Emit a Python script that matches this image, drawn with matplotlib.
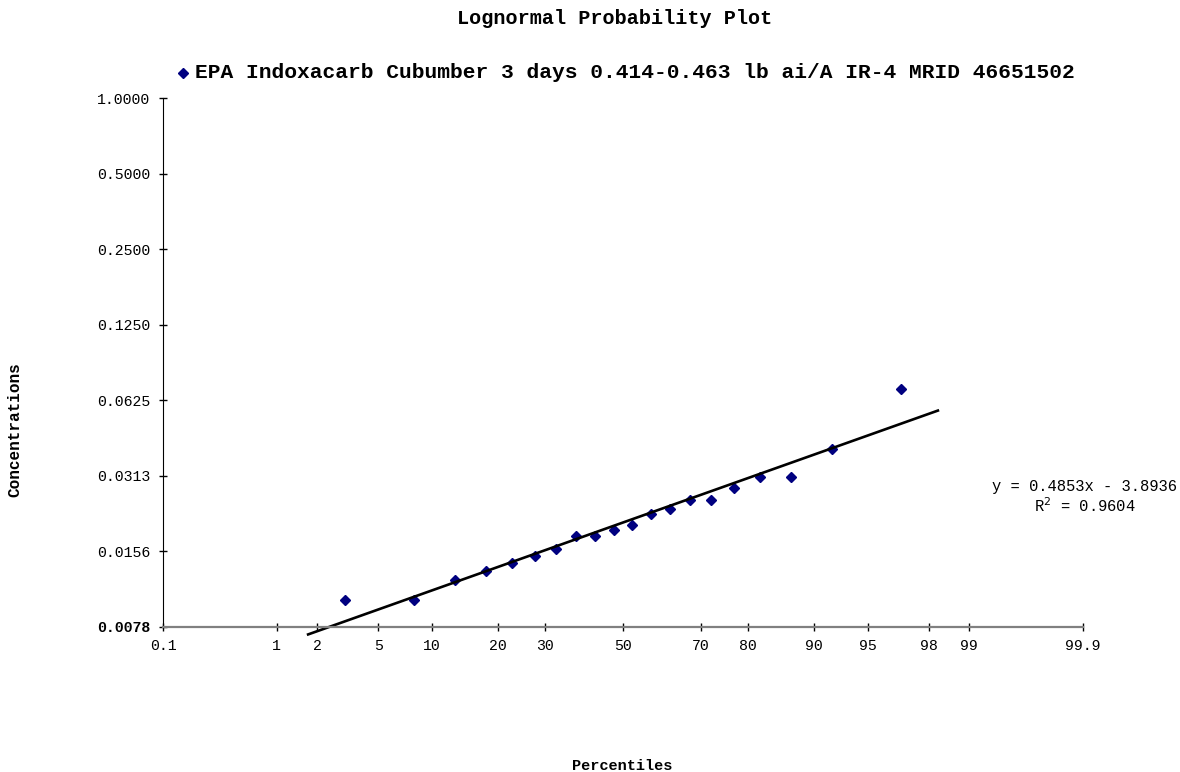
#!/usr/bin/env python3
'''
Lognormal probability plot of residue concentrations
'''
from statistics import NormalDist
import numpy as np
import matplotlib
matplotlib.use('Agg')
import matplotlib.pyplot as plt

plt.rcParams['font.family'] = ['Liberation Mono', 'DejaVu Sans Mono']

# plotting positions (percentiles) and residues (ppm)
percentiles = [3.09, 8.02, 12.96, 17.90, 22.84, 27.78, 32.72, 37.65, 42.59, 47.53,
               52.47, 57.41, 62.35, 67.28, 72.22, 77.16, 82.10, 87.04, 91.98, 96.91]
concentrations = [0.010, 0.010, 0.012, 0.013, 0.014, 0.015, 0.016, 0.018, 0.018, 0.019,
                  0.020, 0.022, 0.023, 0.025, 0.025, 0.028, 0.031, 0.031, 0.040, 0.069]

# trendline on ln(conc) vs z
slope, intercept, r2 = 0.4853, -3.8936, 0.9604
fit_range = [1.72, 98.28]

x_ticks = [0.1, 1, 2, 5, 10, 20, 30, 50, 70, 80, 90, 95, 98, 99, 99.9]
x_labels = ['0.1', '1', '2', '5', '10', '20', '30', '50', '70', '80', '90',
            '95', '98', '99', '99.9']
y_ticks = [1.0, 0.5, 0.25, 0.125, 0.0625, 0.03125, 0.015625, 0.0078125]
y_labels = ['1.0000', '0.5000', '0.2500', '0.1250', '0.0625', '0.0313',
            '0.0156', '0.0078']

series_name = 'EPA Indoxacarb Cubumber 3 days 0.414-0.463 lb ai/A IR-4 MRID 46651502'

nd = NormalDist()


def z_of(p):
    return np.array([nd.inv_cdf(v / 100.) for v in np.atleast_1d(p)])


fig = plt.figure(figsize=[11.8, 7.72], dpi=100)
ax = fig.add_axes([163 / 1180, 1 - 627 / 772, 920 / 1180, 529 / 772])

xs = z_of(percentiles)
ys = np.log2(concentrations)
ax.plot(xs, ys, linestyle='none', marker='D', markersize=4.8,
        color='#000080', clip_on=False)

zl = z_of(fit_range)
ax.plot(zl, (slope * zl + intercept) / np.log(2), '-', color='k', lw=1.9,
        clip_on=False)

ax.set_xlim(z_of([0.1, 99.9]))
ax.set_ylim(np.log2(y_ticks[-1]), 0)
ax.set_xticks(z_of(x_ticks))
ax.set_xticklabels(x_labels)
ax.set_yticks(np.log2(y_ticks))
ax.set_yticklabels(y_labels)
ax.get_yticklabels()[-1].set_fontweight('bold')

for s in ['top', 'right']:
    ax.spines[s].set_visible(False)
ax.spines['left'].set_color('k')
ax.spines['bottom'].set_color('#808080')
ax.spines['bottom'].set_linewidth(1.6)
ax.tick_params(direction='inout', length=6, width=1, colors='k',
               labelsize=10.7, pad=6)

fig.text(615 / 1180, 1 - 18 / 772, 'Lognormal Probability Plot',
         ha='center', va='center', fontsize=14.5, fontweight='bold')

# legend
fig.lines.append(plt.Line2D([183 / 1180], [1 - 73 / 772], marker='D',
                            markersize=4.8, color='#000080',
                            transform=fig.transFigure))
fig.text(195 / 1180, 1 - 73 / 772, series_name, ha='left', va='center',
         fontsize=15.3, fontweight='bold')

fig.text(15 / 1180, 1 - 430 / 772, 'Concentrations', rotation=90,
         ha='center', va='center', fontsize=11.5, fontweight='bold')
fig.text(622 / 1180, 1 - 766 / 772, 'Percentiles', ha='center', va='center',
         fontsize=11, fontweight='bold')

fig.text(1085 / 1180, 1 - 486 / 772, f'y = {slope}x - {abs(intercept)}',
         ha='center', va='center', fontsize=11.2)
fig.text(1085 / 1180, 1 - 506 / 772, f'R$^2$ = {r2}',
         ha='center', va='center', fontsize=11.2)

fig.savefig('out.png', dpi=100)
plt.close(fig)
